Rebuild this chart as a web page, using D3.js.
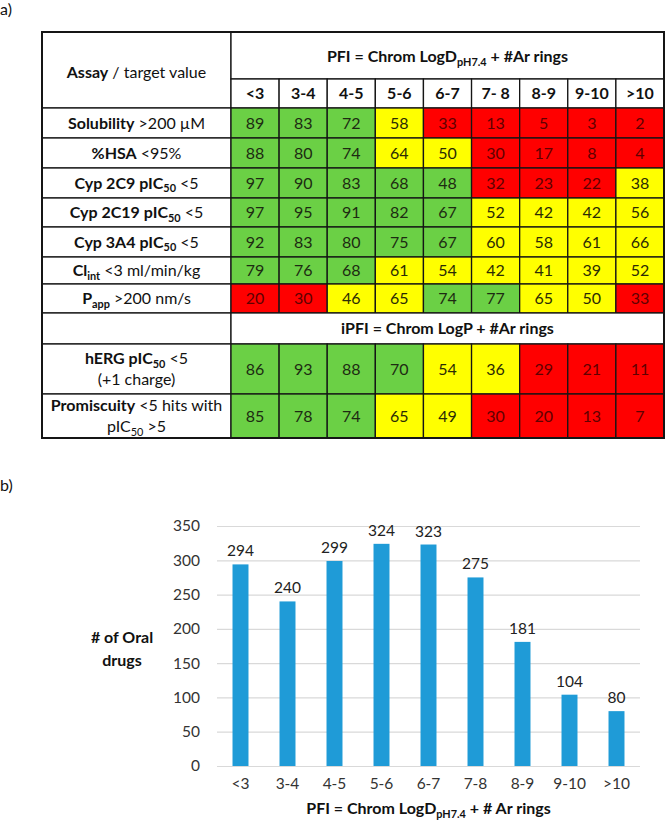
<!DOCTYPE html>
<html>
<head>
<meta charset="utf-8">
<script src="https://cdn.jsdelivr.net/npm/d3@7"></script>
<style>
  body { margin: 0; background: #fff; }
  text { font-family: Lato, "Open Sans", sans-serif; }
</style>
</head>
<body>
<div id="chart"></div>
<script>
// ---- data: panel a (table) ----
var pfiColumns = ["<3", "3-4", "4-5", "5-6", "6-7", "7- 8", "8-9", "9-10", ">10"];

// label segments: [text, flags]  b = bold, s = subscript
var assayLabels = [
  [[["Solubility", "b"], [" >200 \u00b5M"]]],
  [[["%HSA", "b"], [" <95%"]]],
  [[["Cyp 2C9 pIC", "b"], ["50", "bs"], [" <5"]]],
  [[["Cyp 2C19 pIC", "b"], ["50", "bs"], [" <5"]]],
  [[["Cyp 3A4 pIC", "b"], ["50", "bs"], [" <5"]]],
  [[["Cl", "b"], ["int", "bs"], [" <3 ml/min/kg"]]],
  [[["P", "b"], ["app", "bs"], [" >200 nm/s"]]]
];
var pfiValues = [
  [89, 83, 72, 58, 33, 13, 5, 3, 2],
  [88, 80, 74, 64, 50, 30, 17, 8, 4],
  [97, 90, 83, 68, 48, 32, 23, 22, 38],
  [97, 95, 91, 82, 67, 52, 42, 42, 56],
  [92, 83, 80, 75, 67, 60, 58, 61, 66],
  [79, 76, 68, 61, 54, 42, 41, 39, 52],
  [20, 30, 46, 65, 74, 77, 65, 50, 33]
];
// G = good, Y = intermediate, R = poor
var pfiRatings = [
  "GGGYRRRRR",
  "GGGYYRRRR",
  "GGGGGRRRY",
  "GGGGGYYYY",
  "GGGGGYYYY",
  "GGGYYYYYY",
  "RRYYGGYYR"
];

var ipfiLabels = [
  [[["hERG pIC", "b"], ["50", "bs"], [" <5"]], [["(+1 charge)"]]],
  [[["Promiscuity", "b"], [" <5 hits with"]], [["pIC"], ["50", "s"], [" >5"]]]
];
var ipfiValues = [
  [86, 93, 88, 70, 54, 36, 29, 21, 11],
  [85, 78, 74, 65, 49, 30, 20, 13, 7]
];
var ipfiRatings = [
  "GGGGYYRRR",
  "GGGYYRRRR"
];

var assayHeader = [["Assay", "b"], [" / target value"]];
var pfiHeader = [["PFI = Chrom LogD", "b"], ["pH7.4", "bs"], [" + #Ar rings", "b"]];
var ipfiHeader = [["iPFI = Chrom LogP + #Ar rings", "b"]];

// ---- data: panel b (bar chart) ----
var pfiBins = ["<3", "3-4", "4-5", "5-6", "6-7", "7-8", "8-9", "9-10", ">10"];
var oralDrugCounts = [294, 240, 299, 324, 323, 275, 181, 104, 80];
var countTicks = [0, 50, 100, 150, 200, 250, 300, 350];
var yTitleLines = ["# of Oral", "drugs"];
var xTitle = [["PFI = Chrom LogD", "b"], ["pH7.4", "bs"], [" + # Ar rings", "b"]];

// ---- layout ----
var width = 666, height = 829;
var tableLeft = 42, assayRight = 231, tableRight = 664, tableTop = 32;
var headHeights = [47, 29];
var pfiRowHeights = [30, 30, 30, 29, 30, 27, 29];
var ipfiHeadHeight = 31;
var ipfiRowHeights = [50, 44];

var fill = { G: "#6bd045", Y: "#ffff00", R: "#ff0000" };
var ink = { G: "#1d2b12", Y: "#2b2b05", R: "#600000" };

var svg = d3.select("#chart")
  .append("svg")
  .attr("width", width)
  .attr("height", height);

// write text made of segments into a <text>
function richText(textSel, segs, size) {
  var sub = false;
  segs.forEach(function(seg) {
    var flags = seg[1] || "";
    var isSub = flags.indexOf("s") >= 0;
    var ts = textSel.append("tspan").text(seg[0]);
    if (flags.indexOf("b") >= 0) ts.attr("font-weight", "bold");
    if (isSub) ts.attr("font-size", size * 0.68);
    if (isSub && !sub) ts.attr("dy", size * 0.22);
    if (!isSub && sub) ts.attr("dy", -size * 0.22);
    sub = isSub;
  });
}

function label(g, x, y, segs, size) {
  var t = g.append("text")
    .attr("x", x)
    .attr("y", y)
    .attr("text-anchor", "middle")
    .attr("font-size", size)
    .attr("fill", "#111");
  richText(t, segs, size);
  return t;
}

// panel letters
svg.append("text").attr("x", 0).attr("y", 15).attr("font-size", 16).attr("fill", "#111").text("a)");
svg.append("text").attr("x", 0).attr("y", 491).attr("font-size", 16).attr("fill", "#111").text("b)");

// ================= panel a: table =================
var table = svg.append("g");
var colX = d3.scaleBand().domain(pfiColumns).range([assayRight, tableRight]);
var fontSize = 16;
var assayMid = (tableLeft + assayRight) / 2;
var dataMid = (assayRight + tableRight) / 2;

function cellBox(x, y, w, h, color) {
  table.append("rect")
    .attr("x", x).attr("y", y)
    .attr("width", w).attr("height", h)
    .attr("fill", color)
    .attr("stroke", "#151515")
    .attr("stroke-width", 1.3);
}

// header
var yHead2 = tableTop + headHeights[0];
var yBody = yHead2 + headHeights[1];
cellBox(tableLeft, tableTop, assayRight - tableLeft, headHeights[0] + headHeights[1], "#fff");
cellBox(assayRight, tableTop, tableRight - assayRight, headHeights[0], "#fff");
label(table, assayMid, tableTop + 46, assayHeader, fontSize);
label(table, dataMid, tableTop + 30, pfiHeader, fontSize);
pfiColumns.forEach(function(c) {
  cellBox(colX(c), yHead2, colX.bandwidth(), headHeights[1], "#fff");
  table.append("text")
    .attr("x", colX(c) + colX.bandwidth() / 2)
    .attr("y", yHead2 + 20)
    .attr("text-anchor", "middle")
    .attr("font-size", fontSize)
    .attr("font-weight", "bold")
    .attr("fill", "#111")
    .text(c);
});

function drawRows(labels, values, ratings, heights, yStart) {
  var y0 = yStart;
  values.forEach(function(row, i) {
    var h = heights[i];
    cellBox(tableLeft, y0, assayRight - tableLeft, h, "#fff");
    var lines = labels[i];
    var lineGap = 21;
    var firstY = y0 + h / 2 + 5.5 - (lines.length - 1) * lineGap / 2;
    lines.forEach(function(segs, j) {
      label(table, assayMid, firstY + j * lineGap, segs, fontSize);
    });
    row.forEach(function(v, j) {
      var r = ratings[i][j];
      var cx = colX(pfiColumns[j]);
      cellBox(cx, y0, colX.bandwidth(), h, fill[r]);
      table.append("text")
        .attr("x", cx + colX.bandwidth() / 2)
        .attr("y", y0 + h / 2 + 5.5)
        .attr("text-anchor", "middle")
        .attr("font-size", fontSize)
        .attr("fill", ink[r])
        .text(v);
    });
    y0 += h;
  });
  return y0;
}

var yAfterPfi = drawRows(assayLabels, pfiValues, pfiRatings, pfiRowHeights, yBody);
cellBox(tableLeft, yAfterPfi, assayRight - tableLeft, ipfiHeadHeight, "#fff");
cellBox(assayRight, yAfterPfi, tableRight - assayRight, ipfiHeadHeight, "#fff");
label(table, dataMid, yAfterPfi + ipfiHeadHeight / 2 + 5.5, ipfiHeader, fontSize);
var tableBottom = drawRows(ipfiLabels, ipfiValues, ipfiRatings, ipfiRowHeights, yAfterPfi + ipfiHeadHeight);

// outer border
table.append("rect")
  .attr("x", tableLeft).attr("y", tableTop)
  .attr("width", tableRight - tableLeft)
  .attr("height", tableBottom - tableTop)
  .attr("fill", "none")
  .attr("stroke", "#151515")
  .attr("stroke-width", 2);

// ================= panel b: bar chart =================
var plotLeft = 217, plotRight = 640, plotTop = 526, plotBottom = 766;
var chart = svg.append("g");

var xScale = d3.scaleBand()
  .domain(pfiBins)
  .range([plotLeft, plotRight])
  .paddingInner(0.66)
  .paddingOuter(0.33);

var yScale = d3.scaleLinear()
  .domain([0, 350])
  .range([plotBottom, plotTop]);

var leftAxis = d3.axisLeft(yScale)
  .tickValues(countTicks)
  .tickSizeInner(-(plotRight - plotLeft))
  .tickSizeOuter(0)
  .tickPadding(17);

var yAxisG = chart.append("g")
  .attr("transform", `translate(${plotLeft},0)`)
  .call(leftAxis);
yAxisG.select(".domain").remove();
yAxisG.selectAll("line").attr("stroke", "#d9d9d9").attr("stroke-width", 1.2);
yAxisG.selectAll("text")
  .attr("font-size", 15.5)
  .attr("fill", "#333")
  .style("font-family", "Lato, sans-serif");

// bars
chart.selectAll("rect.bar")
  .data(oralDrugCounts)
  .enter()
  .append("rect")
  .attr("class", "bar")
  .attr("x", (d, i) => xScale(pfiBins[i]))
  .attr("y", d => yScale(d))
  .attr("width", xScale.bandwidth())
  .attr("height", d => plotBottom - yScale(d))
  .attr("fill", "#1f9bd7");

// value labels
chart.selectAll("text.val")
  .data(oralDrugCounts)
  .enter()
  .append("text")
  .attr("class", "val")
  .attr("x", (d, i) => xScale(pfiBins[i]) + xScale.bandwidth() / 2)
  .attr("y", d => yScale(d) - 8)
  .attr("text-anchor", "middle")
  .attr("font-size", 15.5)
  .attr("fill", "#222")
  .text(d => d);

// x axis
var bottomAxis = d3.axisBottom(xScale).tickSize(0).tickPadding(12);
var xAxisG = chart.append("g")
  .attr("transform", `translate(0,${plotBottom})`)
  .call(bottomAxis);
xAxisG.select(".domain").attr("stroke", "#d9d9d9").attr("stroke-width", 1.2)
  .attr("d", `M${plotLeft},0.5H${plotRight}`);
xAxisG.selectAll("text")
  .attr("font-size", 15.5)
  .attr("fill", "#333")
  .style("font-family", "Lato, sans-serif");

// axis titles
label(chart, (plotLeft + plotRight) / 2, 814, xTitle, 16);
yTitleLines.forEach(function(line, i) {
  chart.append("text")
    .attr("x", 122)
    .attr("y", 643 + i * 23)
    .attr("text-anchor", "middle")
    .attr("font-size", 16)
    .attr("font-weight", "bold")
    .attr("fill", "#111")
    .text(line);
});
</script>
</body>
</html>
